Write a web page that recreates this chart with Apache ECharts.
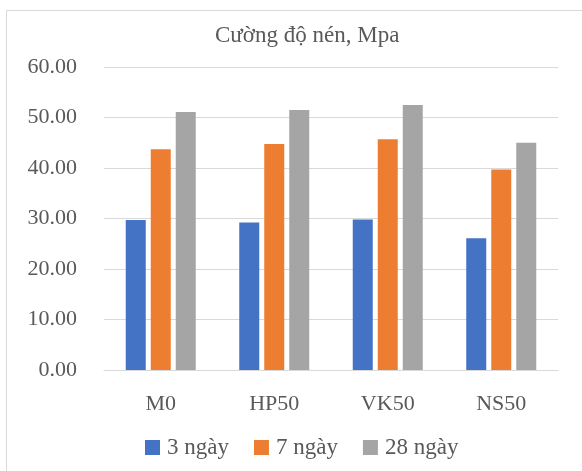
<!DOCTYPE html>
<html>
<head>
<meta charset="utf-8">
<script src="https://cdn.jsdelivr.net/npm/echarts@6/dist/echarts.min.js"></script>
<style>
  html, body { margin: 0; padding: 0; background: #fff; }
  #chart { width: 582px; height: 471px; }
</style>
</head>
<body>
<div id="chart"></div>
<script>
// compressive strength by mix and age
var mixes = ['M0', 'HP50', 'VK50', 'NS50'];
var day3 = [29.7, 29.2, 29.8, 26.1];
var day7 = [43.7, 44.75, 45.7, 39.7];
var day28 = [51.1, 51.5, 52.5, 45.0];
var yTicks = [0, 10, 20, 30, 40, 50, 60];

var font = '"Liberation Serif", "Times New Roman", serif';
var textColor = '#595959';
var lineColor = '#d9d9d9';

var chart = echarts.init(document.getElementById('chart'));

chart.setOption({
  animation: false,
  textStyle: { fontFamily: font },
  title: {
    text: 'Cường độ nén, Mpa',
    left: 210,
    top: 19,
    textStyle: { fontFamily: font, fontSize: 23, fontWeight: 'normal', color: textColor }
  },
  graphic: [{
    type: 'rect',
    shape: { x: 6.5, y: 10.5, width: 700, height: 600 },
    style: { fill: 'none', stroke: lineColor, lineWidth: 1 },
    silent: true
  }],
  legend: {
    left: 140,
    top: 431,
    icon: 'rect',
    itemWidth: 15,
    itemHeight: 15,
    itemGap: 25,
    textStyle: { fontFamily: font, fontSize: 23, color: textColor, padding: [0, 0, 0, 2] },
    data: ['3 ngày', '7 ngày', '28 ngày']
  },
  grid: { left: 104, right: 24, top: 67, bottom: 101, containLabel: false },
  xAxis: {
    type: 'category',
    data: mixes,
    axisLine: { lineStyle: { color: lineColor, width: 1 } },
    axisTick: { show: false },
    axisLabel: { fontFamily: font, fontSize: 22, color: textColor, margin: 23 }
  },
  yAxis: {
    type: 'value',
    min: yTicks[0],
    max: yTicks[yTicks.length - 1],
    interval: 10,
    axisLine: { show: false },
    axisTick: { show: false },
    splitLine: { lineStyle: { color: lineColor, width: 1 } },
    axisLabel: {
      fontFamily: font, fontSize: 22, color: textColor, margin: 27,
      formatter: function (v) { return v.toFixed(2); }
    }
  },
  series: [
    { name: '3 ngày', type: 'bar', data: day3, barWidth: 20, barGap: '25%', itemStyle: { color: '#4472c4' } },
    { name: '7 ngày', type: 'bar', data: day7, barWidth: 20, barGap: '25%', itemStyle: { color: '#ed7d31' } },
    { name: '28 ngày', type: 'bar', data: day28, barWidth: 20, barGap: '25%', itemStyle: { color: '#a5a5a5' } }
  ]
});
</script>
</body>
</html>
